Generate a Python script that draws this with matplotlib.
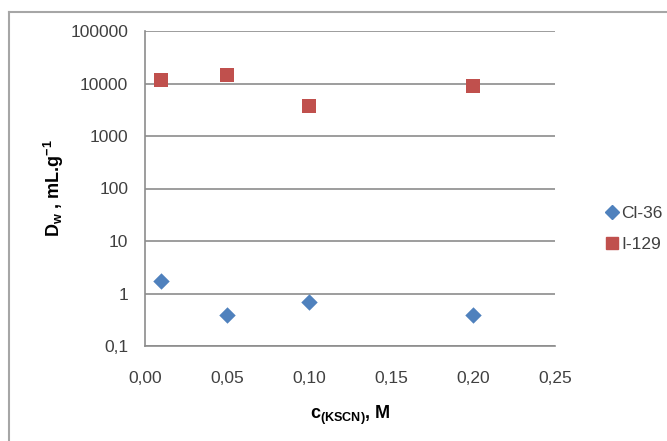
import numpy as np
import matplotlib.pyplot as plt
from matplotlib.lines import Line2D
from matplotlib.ticker import FixedLocator, FixedFormatter, NullLocator

plt.rcParams['font.family'] = ['Liberation Sans', 'DejaVu Sans']
plt.rcParams['mathtext.fontset'] = 'custom'
plt.rcParams['mathtext.rm'] = 'Liberation Sans'
plt.rcParams['mathtext.bf'] = 'Liberation Sans:bold'

c_kscn = [0.01, 0.05, 0.10, 0.20]
cl36 = [1.7, 0.39, 0.69, 0.39]
i129 = [11600, 14700, 3800, 8900]

x_ticks = [0.00, 0.05, 0.10, 0.15, 0.20, 0.25]
x_labels = ['0,00', '0,05', '0,10', '0,15', '0,20', '0,25']
y_ticks = [0.1, 1, 10, 100, 1000, 10000, 100000]
y_labels = ['0,1', '1', '10', '100', '1000', '10000', '100000']

txt = '#404040'
grid = '#8c8c8c'

fig = plt.figure(figsize=(6.67, 4.41), dpi=100)
ax = fig.add_axes([145/667, 1-346/441, 410/667, 315/441])

ax.scatter(c_kscn, cl36, marker='D', s=70, color='#4F81BD', zorder=3, linewidths=0)
ax.scatter(c_kscn, i129, marker='s', s=95, color='#C0504D', zorder=3, linewidths=0)

ax.set_yscale('log')
ax.set_xlim(0, 0.25)
ax.set_ylim(0.1, 100000)
ax.yaxis.set_major_locator(FixedLocator(y_ticks))
ax.yaxis.set_major_formatter(FixedFormatter(y_labels))
ax.yaxis.set_minor_locator(NullLocator())
ax.set_xticks(x_ticks)
ax.set_xticklabels(x_labels)
ax.tick_params(length=0, labelsize=12.5, colors=txt)
ax.tick_params(axis='x', pad=18)
ax.tick_params(axis='y', pad=12)

ax.grid(axis='y', color=grid, linewidth=1.2)
ax.set_axisbelow(True)
for s in ['top', 'right']:
    ax.spines[s].set_visible(False)
for s in ['left', 'bottom']:
    ax.spines[s].set_color(grid)
    ax.spines[s].set_linewidth(1.2)

ax.set_xlabel(r'c$_{\mathbf{(KSCN)}}$, M', fontsize=13, fontweight='bold', color='black', labelpad=13)
ax.set_ylabel(r'D$_{\mathbf{w}}$ , mL.g$^{\mathbf{-1}}$', fontsize=13, fontweight='bold', color='black', labelpad=3)

handles = [Line2D([], [], marker='D', linestyle='none', color='#4F81BD', markersize=7.5),
           Line2D([], [], marker='s', linestyle='none', color='#C0504D', markersize=9)]
fig.legend(handles, ['Cl-36', 'I-129'], loc='center left', bbox_to_anchor=(591/667, 1-229/441),
           frameon=False, fontsize=12.5, handlelength=0.6, handletextpad=0.25,
           labelspacing=0.95, labelcolor=txt)

# chart area border (cropped: only top and left visible)
fig.add_artist(Line2D([9/667, 9/667], [0, 1-12/441], color='#a6a6a6', linewidth=1.5))
fig.add_artist(Line2D([9/667, 666/667], [1-12/441, 1-12/441], color='#a6a6a6', linewidth=1.5))

fig.savefig('out.png', dpi=100)
